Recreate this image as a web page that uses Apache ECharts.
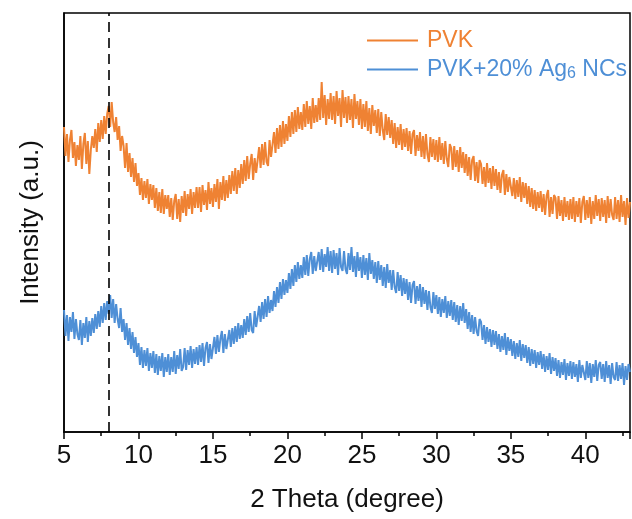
<!DOCTYPE html>
<html>
<head>
<meta charset="utf-8">
<script src="https://cdn.jsdelivr.net/npm/echarts@6/dist/echarts.min.js"></script>
<style>html,body{margin:0;padding:0;background:#fff}#c{width:632px;height:519px}</style>
</head>
<body>
<div id="c"></div>
<script>
// 2θ sampling of the read-off traces
const thetaStart = 5;
const thetaStep = 0.1;
const xTicks = [5, 10, 15, 20, 25, 30, 35, 40];
const seriesNames = ['PVK', 'PVK+20% Ag6 NCs'];
const dashedTheta = 8;

// PVK intensity (a.u.), one row per degree (5.0 … 42.9), then 43.0
const pvk = [
305,276,298,270,292,302,274,290,266,287,
272,296,263,288,299,268,291,258,282,296,
284,303,280,309,290,312,293,316,298,318,
326,305,330,310,300,315,292,306,281,296,
286,264,289,260,279,255,274,250,269,246,
259,237,254,232,251,234,253,228,248,232,
247,224,244,221,240,219,243,218,237,223,
237,215,234,212,231,238,213,233,210,236,
219,241,216,238,223,243,218,240,224,245,
224,245,220,247,227,242,222,250,228,244,
225,248,230,253,223,250,232,256,231,252,
234,257,238,261,241,264,238,262,244,268,
248,272,251,276,253,268,278,252,274,259,
261,285,264,288,267,290,270,266,292,275,
277,300,279,304,283,307,285,311,288,308,
291,316,295,320,298,322,300,325,303,320,
302,328,305,331,308,326,303,334,309,327,
310,334,312,350,314,337,307,333,313,339,
312,336,308,341,316,334,305,342,314,335,
309,336,312,333,304,338,313,331,307,333,
303,328,305,331,301,324,298,327,306,322,
299,323,296,320,302,292,318,297,315,294,
312,288,309,284,305,287,308,282,303,285,
304,281,301,278,298,302,276,297,281,300,
275,296,273,298,278,270,295,275,293,272,
292,270,295,272,289,268,291,273,265,288,
284,262,286,265,282,260,285,264,280,259,
278,256,275,252,272,276,251,270,249,272,
268,248,265,245,269,249,264,243,266,246,
263,242,260,239,257,262,237,258,240,255,
257,236,254,233,252,235,255,230,250,234,
249,228,246,225,244,223,242,221,240,224,
241,220,238,217,236,242,215,235,218,237,
234,213,236,216,232,211,235,215,231,212,
233,213,235,210,231,215,234,209,230,236,
212,232,214,235,208,231,213,237,216,233,
211,234,215,232,209,236,214,233,217,212,
235,213,232,210,237,215,231,207,234,214,
230
];

// PVK+20% Ag6 NCs intensity (a.u.)
const pvkAg = [
122,96,117,91,115,100,120,93,113,98,
92,112,87,109,94,115,90,111,96,114,
99,118,103,121,105,126,109,129,112,131,
118,137,114,133,109,128,113,104,124,100,
113,92,109,87,104,83,100,79,95,75,
89,67,85,64,82,66,84,61,79,64,
81,59,78,57,76,61,79,55,75,60,
78,57,75,60,81,58,77,63,83,61,
65,84,62,82,67,86,64,83,68,85,
67,87,70,89,66,84,90,69,88,73,
75,95,78,97,80,93,101,79,98,83,
82,102,85,104,88,106,90,109,93,107,
94,113,97,116,100,119,102,99,121,105,
107,126,110,130,113,133,115,136,119,132,
121,141,125,145,129,150,133,153,137,152,
139,159,143,163,146,167,150,170,153,167,
154,175,157,177,156,173,180,158,176,161,
159,180,162,183,160,178,165,185,161,181,
159,182,163,179,157,184,165,161,181,163,
158,179,162,185,160,176,155,180,161,175,
154,177,157,174,152,179,158,172,153,170,
149,171,152,167,146,165,144,168,149,162,
142,162,145,139,160,141,157,136,154,138,
153,132,150,129,147,151,128,146,131,148,
125,145,128,142,122,141,125,119,140,123,
137,118,135,115,133,119,136,114,131,116,
132,112,130,110,127,107,126,111,129,109,
123,103,120,100,117,98,115,101,96,113,
110,92,107,88,105,90,103,85,102,87,
101,83,98,80,96,82,99,77,95,81,
93,76,91,73,89,75,92,71,88,74,
87,69,85,66,83,68,82,64,80,67,
81,63,78,60,76,62,79,58,75,61,
74,56,72,54,70,57,73,52,69,56,
71,53,70,55,68,50,72,54,67,69,
52,71,54,69,49,68,55,72,51,67,
70,53,68,50,71,54,67,48,69,55,
52,70,51,67,53,69,47,66,52,68,
60
];

const ORANGE = '#EF8233';
const BLUE = '#4E8FD6';
const FONT = 'Liberation Sans, Arial, sans-serif';

function pairs(arr) {
  return arr.map((v, i) => [+(thetaStart + i * thetaStep).toFixed(2), v]);
}

const chart = echarts.init(document.getElementById('c'), null, {renderer: 'canvas'});
chart.setOption({
  animation: false,
  backgroundColor: '#fff',
  grid: {left: 64, right: 2, top: 13, bottom: 87, show: true, borderColor: '#000', borderWidth: 1.5, backgroundColor: 'transparent'},
  legend: {
    orient: 'vertical', left: 362, top: 24, itemGap: 6,
    icon: 'rect', itemWidth: 51, itemHeight: 2,
    textStyle: {fontFamily: FONT, fontSize: 23, padding: [0, 0, 0, 4]},
    formatter: function (name) {
      if (name === seriesNames[1]) return '{n|PVK+20% Ag}{s|6}{n| NCs}';
      return '{n|' + name + '}';
    },
    data: [
      {name: seriesNames[0], textStyle: {color: ORANGE, rich: {n: {color: ORANGE, fontSize: 23, fontFamily: FONT, lineHeight: 24}}}},
      {name: seriesNames[1], textStyle: {color: BLUE, rich: {
        n: {color: BLUE, fontSize: 23, fontFamily: FONT, lineHeight: 24},
        s: {color: BLUE, fontSize: 16, fontFamily: FONT, lineHeight: 12, verticalAlign: 'bottom'}
      }}}
    ]
  },
  xAxis: {
    type: 'value', min: 5, max: 43, interval: 5,
    name: '2 Theta (degree)', nameLocation: 'middle', nameGap: 55,
    nameTextStyle: {fontFamily: FONT, fontSize: 26, color: '#111'},
    axisLine: {show: true, lineStyle: {color: '#000', width: 1.5}},
    axisTick: {show: true, inside: false, length: 7, lineStyle: {color: '#000', width: 1.5}},
    minorTick: {show: true, splitNumber: 2, length: 4, lineStyle: {color: '#000', width: 1.5}},
    axisLabel: {fontFamily: FONT, fontSize: 26, color: '#111', margin: 11,
      customValues: xTicks, formatter: v => String(v)},
    splitLine: {show: false}
  },
  yAxis: {
    type: 'value', min: 0, max: 419,
    name: 'Intensity (a.u.)', nameLocation: 'middle', nameGap: 20,
    nameTextStyle: {fontFamily: FONT, fontSize: 26, color: '#111'},
    axisLine: {show: true, lineStyle: {color: '#000', width: 1.5}},
    axisTick: {show: false}, axisLabel: {show: false}, splitLine: {show: false}
  },
  series: [
    {
      name: seriesNames[0], type: 'line', data: pairs(pvk), showSymbol: false, symbol: 'none',
      lineStyle: {color: ORANGE, width: 2}, itemStyle: {color: ORANGE},
      markLine: {
        silent: true, symbol: ['none', 'none'], label: {show: false},
        lineStyle: {color: '#000', type: [10, 6], width: 1.6},
        data: [{xAxis: dashedTheta}]
      }
    },
    {
      name: seriesNames[1], type: 'line', data: pairs(pvkAg), showSymbol: false, symbol: 'none',
      lineStyle: {color: BLUE, width: 2}, itemStyle: {color: BLUE}
    }
  ]
});
</script>
</body>
</html>
